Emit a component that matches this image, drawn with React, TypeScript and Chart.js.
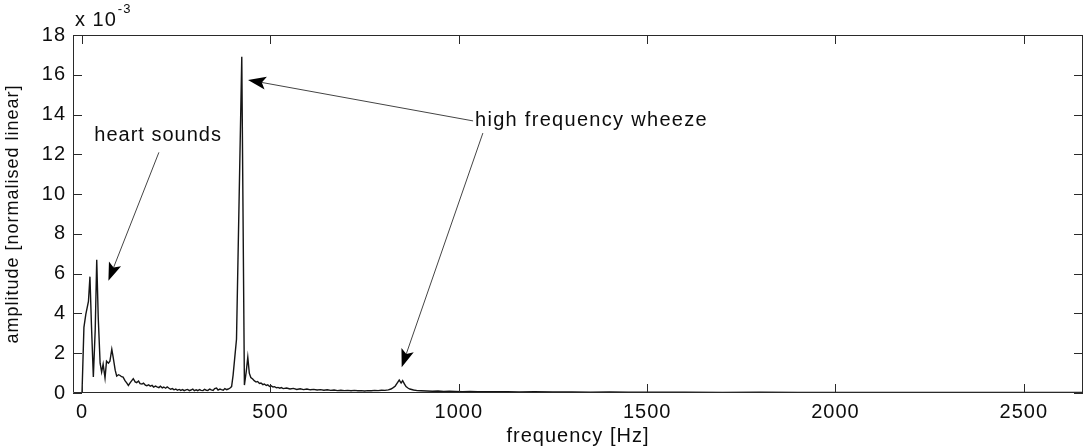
import { useEffect, useRef } from "react";
import { Chart, registerables } from "chart.js";

Chart.register(...registerables);

// ---- data (amplitude in units of 10^-3) ----
const freqHz = [
  0, 5, 10, 17, 21, 25, 30, 35, 39, 43, 48, 52, 56, 61, 65, 70, 74, 79, 83, 88,
  92, 97, 101, 105, 109, 114, 119, 123, 128, 132, 136, 141, 145, 150, 154, 159, 163, 168, 172, 177,
  181, 186, 190, 195, 199, 204, 208, 213, 217, 222, 226, 231, 235, 240, 244, 249, 253, 258, 262, 267,
  271, 276, 280, 285, 289, 294, 298, 303, 307, 312, 316, 321, 325, 330, 334, 339, 343, 348, 352, 357,
  361, 366, 370, 375, 379, 384, 388, 393, 397, 401, 405, 410, 424, 431, 436, 440, 444, 448, 453, 457,
  462, 466, 471, 475, 480, 484, 489, 493, 498, 502, 507, 511, 516, 520, 525, 529, 534, 543, 552, 561,
  570, 579, 588, 597, 606, 615, 624, 633, 642, 651, 660, 669, 678, 687, 696, 705, 714, 723, 732, 741,
  750, 759, 768, 777, 786, 795, 804, 813, 820, 826, 831, 836, 842, 847, 851, 856, 860, 865, 870, 880,
  890, 900, 915, 930, 945, 960, 975, 990, 1010, 1030, 1050, 1075, 1100, 1130, 1160, 1200, 1250, 1300, 1350, 1400,
  1450, 1500, 1600, 1700, 1800, 1900, 2000, 2100, 2200, 2300, 2400, 2500, 2600, 2657,
];
const amplitude = [
  0.05, 3.3, 3.95, 4.6, 5.85, 3.4, 0.8, 3.2, 6.7, 3.8, 1.5, 1.05, 1.45, 0.75, 1.6, 1.5, 1.6, 2.2, 1.75, 1.15,
  0.85, 0.92, 0.88, 0.82, 0.8, 0.62, 0.5, 0.38, 0.52, 0.62, 0.72, 0.56, 0.52, 0.6, 0.47, 0.45, 0.5, 0.4, 0.37, 0.41,
  0.34, 0.38, 0.3, 0.35, 0.31, 0.27, 0.34, 0.26, 0.3, 0.24, 0.31, 0.24, 0.19, 0.22, 0.16, 0.2, 0.14, 0.18, 0.13, 0.17,
  0.12, 0.16, 0.18, 0.12, 0.15, 0.2, 0.12, 0.16, 0.12, 0.17, 0.13, 0.12, 0.18, 0.14, 0.13, 0.2, 0.16, 0.13, 0.22, 0.25,
  0.15, 0.2, 0.17, 0.14, 0.22, 0.17, 0.2, 0.25, 0.32, 0.9, 1.7, 2.7, 16.9, 0.4, 1.1, 1.8, 1.0, 0.78, 0.7, 0.62,
  0.55, 0.58, 0.48, 0.5, 0.42, 0.45, 0.38, 0.41, 0.33, 0.36, 0.3, 0.32, 0.26, 0.28, 0.24, 0.27, 0.22, 0.25, 0.2, 0.23,
  0.18, 0.21, 0.17, 0.2, 0.16, 0.18, 0.15, 0.17, 0.14, 0.16, 0.13, 0.15, 0.12, 0.14, 0.12, 0.13, 0.11, 0.13, 0.11, 0.12,
  0.1, 0.12, 0.11, 0.13, 0.12, 0.14, 0.13, 0.16, 0.2, 0.27, 0.34, 0.48, 0.65, 0.5, 0.62, 0.45, 0.32, 0.25, 0.2, 0.15,
  0.12, 0.11, 0.1, 0.09, 0.1, 0.08, 0.09, 0.08, 0.07, 0.08, 0.07, 0.06, 0.07, 0.06, 0.05, 0.06, 0.05, 0.05, 0.04, 0.05,
  0.04, 0.04, 0.04, 0.03, 0.04, 0.03, 0.03, 0.03, 0.03, 0.03, 0.03, 0.03, 0.03, 0.03,
];

const xRange = [-24, 2657];
const yRange = [0, 18];
const xTickValues = [0, 500, 1000, 1500, 2000, 2500];
const yTickValues = [0, 2, 4, 6, 8, 10, 12, 14, 16, 18];
const xTitle = "frequency [Hz]";
const yTitle = "amplitude [normalised linear]";
const exponentBase = "x 10";
const exponentPower = "-3";

// annotations (text + arrows) placed in data units
const heartLabel = "heart sounds";
const heartLabelPos = { x: 202, y: 12.95 };
const heartArrow = { from: { x: 204, y: 12.1 }, to: { x: 70, y: 5.65 } };
const wheezeLabel = "high frequency wheeze";
const wheezeLabelPos = { x: 1043, y: 13.68 };
const wheezeArrows = [
  { from: { x: 1038, y: 13.68 }, to: { x: 440.6, y: 15.74 } },
  { from: { x: 1064, y: 13.07 }, to: { x: 848.5, y: 1.3 } },
];

const FONT = "'Liberation Sans', Arial, Helvetica, sans-serif";
const TEXT = "#0d0d0d";
const AXIS = "#2a2a2a";

function drawArrow(ctx: CanvasRenderingContext2D, x1: number, y1: number, x2: number, y2: number) {
  const dx = x2 - x1;
  const dy = y2 - y1;
  const len = Math.hypot(dx, dy);
  const ux = dx / len;
  const uy = dy / len;
  const headLen = 18;
  const halfW = 6.5;
  const bx = x2 - ux * headLen;
  const by = y2 - uy * headLen;
  ctx.strokeStyle = "#444";
  ctx.lineWidth = 1;
  ctx.beginPath();
  ctx.moveTo(x1, y1);
  ctx.lineTo(bx + ux * 4, by + uy * 4);
  ctx.stroke();
  ctx.fillStyle = "#000";
  ctx.beginPath();
  ctx.moveTo(x2, y2);
  ctx.lineTo(bx - uy * halfW, by + ux * halfW);
  ctx.lineTo(bx + ux * 4, by + uy * 4);
  ctx.lineTo(bx + uy * halfW, by - ux * halfW);
  ctx.closePath();
  ctx.fill();
}

const matlabFrame = {
  id: "matlabFrame",
  beforeDraw(chart: any) {
    chart.ctx.letterSpacing = "1px";
  },
  afterDraw(chart: any) {
    const { ctx, chartArea, scales } = chart;
    const { left, right, top, bottom } = chartArea;
    const xs = scales.x;
    const ys = scales.y;
    ctx.save();
    // box
    ctx.strokeStyle = AXIS;
    ctx.lineWidth = 1;
    ctx.beginPath();
    ctx.rect(left + 0.5, top + 0.5, right - left - 1, bottom - top - 1);
    ctx.stroke();
    // inward ticks
    const tl = 9;
    ctx.beginPath();
    xs.ticks.forEach((t: any) => {
      const px = Math.round(xs.getPixelForValue(t.value)) + 0.5;
      ctx.moveTo(px, bottom);
      ctx.lineTo(px, bottom - tl);
      ctx.moveTo(px, top);
      ctx.lineTo(px, top + tl);
    });
    ys.ticks.forEach((t: any) => {
      const py = Math.round(ys.getPixelForValue(t.value)) + 0.5;
      ctx.moveTo(left, py);
      ctx.lineTo(left + tl, py);
      ctx.moveTo(right, py);
      ctx.lineTo(right - tl, py);
    });
    ctx.stroke();

    // exponent
    ctx.fillStyle = TEXT;
    ctx.textAlign = "left";
    ctx.textBaseline = "alphabetic";
    ctx.font = `20px ${FONT}`;
    ctx.fillText(exponentBase, left + 2, top - 9);
    const w = ctx.measureText(exponentBase).width;
    ctx.font = `13px ${FONT}`;
    ctx.fillText(exponentPower, left + 2 + w + 1, top - 22);

    // annotations
    const P = (p: { x: number; y: number }) => [xs.getPixelForValue(p.x), ys.getPixelForValue(p.y)];
    ctx.font = `20px ${FONT}`;
    ctx.textBaseline = "middle";
    ctx.textAlign = "center";
    const [hx, hy] = P(heartLabelPos);
    ctx.fillText(heartLabel, hx, hy);
    ctx.textAlign = "left";
    ctx.letterSpacing = "1.3px";
    const [wx, wy] = P(wheezeLabelPos);
    ctx.fillText(wheezeLabel, wx, wy);

    const [a1, b1] = P(heartArrow.from);
    const [a2, b2] = P(heartArrow.to);
    drawArrow(ctx, a1, b1, a2, b2);
    wheezeArrows.forEach((ar) => {
      const [c1, d1] = P(ar.from);
      const [c2, d2] = P(ar.to);
      drawArrow(ctx, c1, d1, c2, d2);
    });
    ctx.restore();
    ctx.letterSpacing = "0px";
  },
};

export default function App() {
  const ref = useRef<HTMLCanvasElement | null>(null);
  useEffect(() => {
    if (!ref.current) return;
    const points = freqHz.map((f, i) => ({ x: f, y: amplitude[i] }));
    const chart = new Chart(ref.current, {
      type: "line",
      data: {
        datasets: [
          {
            data: points,
            borderColor: "#151515",
            borderWidth: 1.4,
            pointRadius: 0,
            tension: 0,
            fill: false,
          },
        ],
      },
      options: {
        animation: false,
        responsive: false,
        devicePixelRatio: 1,
        parsing: false as any,
        layout: { padding: { top: 35, right: 1, left: 0, bottom: 0 } },
        plugins: { legend: { display: false }, tooltip: { enabled: false } },
        scales: {
          x: {
            type: "linear",
            min: xRange[0],
            max: xRange[1],
            afterBuildTicks: (s: any) => {
              s.ticks = xTickValues.map((v) => ({ value: v }));
            },
            afterFit: (s: any) => {
              s.height = 55;
            },
            grid: { display: false, drawTicks: false },
            border: { display: false },
            ticks: {
              autoSkip: false,
              maxRotation: 0,
              padding: 7,
              color: TEXT,
              font: { family: FONT, size: 20 },
              callback: (v: any) => String(v),
            },
            title: {
              display: true,
              text: xTitle,
              color: TEXT,
              font: { family: FONT, size: 20 },
              padding: { top: 0, bottom: 0 },
            },
          },
          y: {
            type: "linear",
            min: yRange[0],
            max: yRange[1],
            afterBuildTicks: (s: any) => {
              s.ticks = yTickValues.map((v) => ({ value: v }));
            },
            afterFit: (s: any) => {
              s.width = 73;
            },
            grid: { display: false, drawTicks: false },
            border: { display: false },
            ticks: {
              padding: 7,
              color: TEXT,
              font: { family: FONT, size: 20 },
              callback: (v: any) => String(v),
            },
            title: {
              display: true,
              text: yTitle,
              color: TEXT,
              font: { family: FONT, size: 18 },
              padding: { top: 2, bottom: 0 },
            },
          },
        },
      },
      plugins: [matlabFrame],
    });
    return () => chart.destroy();
  }, []);
  return (
    <canvas
      ref={ref}
      width={1084}
      height={448}
      style={{ position: "fixed", left: 0, top: 0, width: "1084px", height: "448px", display: "block", background: "#fff" }}
    />
  );
}
